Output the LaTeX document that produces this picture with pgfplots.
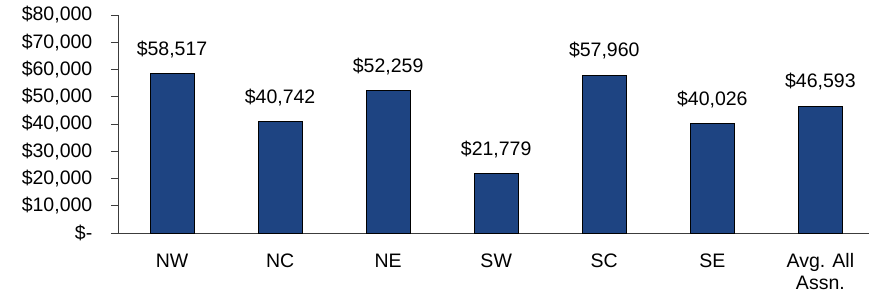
\documentclass[border=0pt]{standalone}
\usepackage{pgfplots}
\pgfplotsset{compat=1.18}
\usepackage{fontspec}
\setmainfont{Liberation Sans}
\definecolor{barblue}{RGB}{30,68,130}
\definecolor{axgray}{RGB}{60,60,60}
\begin{document}
\fontsize{19.5bp}{25bp}\selectfont
\begin{tikzpicture}
\useasboundingbox (-118bp,-61bp) rectangle (751bp,233bp);
\begin{axis}[
  at={(0,0)}, anchor=south west,
  scale only axis,
  width=751bp, height=218bp,
  xmin=-0.5, xmax=6.45,
  ymin=0, ymax=80000,
  scaled y ticks=false,
  axis x line*=bottom,
  axis y line*=left,
  axis line style={axgray, line width=0.9pt},
  ytick={0,10000,20000,30000,40000,50000,60000,70000,80000},
  yticklabels={{\$-},{\$10,000},{\$20,000},{\$30,000},{\$40,000},{\$50,000},{\$60,000},{\$70,000},{\$80,000}},
  y tick label style={font=\fontsize{19.5bp}{22bp}\selectfont, xshift=-12bp},
  ytick style={axgray, line width=0.9pt},
  tick align=outside,
  major tick length=7bp,
  xtick={0,1,2,3,4,5,6},
  xticklabels={NW,NC,NE,SW,SC,SE,{Avg. All\\Assn.}},
  x tick label style={font=\fontsize{19.5bp}{22bp}\selectfont, align=center, anchor=north, yshift=-7bp},
  xtick style={draw=none},
  extra x ticks={0.5,1.5,2.5,3.5,4.5,5.5},
  extra x tick labels={},
  extra x tick style={tick style={draw=axgray, line width=0.9pt}, major tick length=8bp},
  ybar, bar width=44bp,
  point meta=explicit symbolic,
  nodes near coords,
  nodes near coords style={font=\fontsize{19.5bp}{22bp}\selectfont, anchor=south, yshift=9bp, text=black},
  clip=false,
]
\addplot[fill=barblue, draw=black, line width=1pt] coordinates {
  (0,58517) [\$58,517]
  (1,40742) [\$40,742]
  (2,52259) [\$52,259]
  (3,21779) [\$21,779]
  (4,57960) [\$57,960]
  (5,40026) [\$40,026]
  (6,46593) [\$46,593]
};
\end{axis}
\end{tikzpicture}
\end{document}
